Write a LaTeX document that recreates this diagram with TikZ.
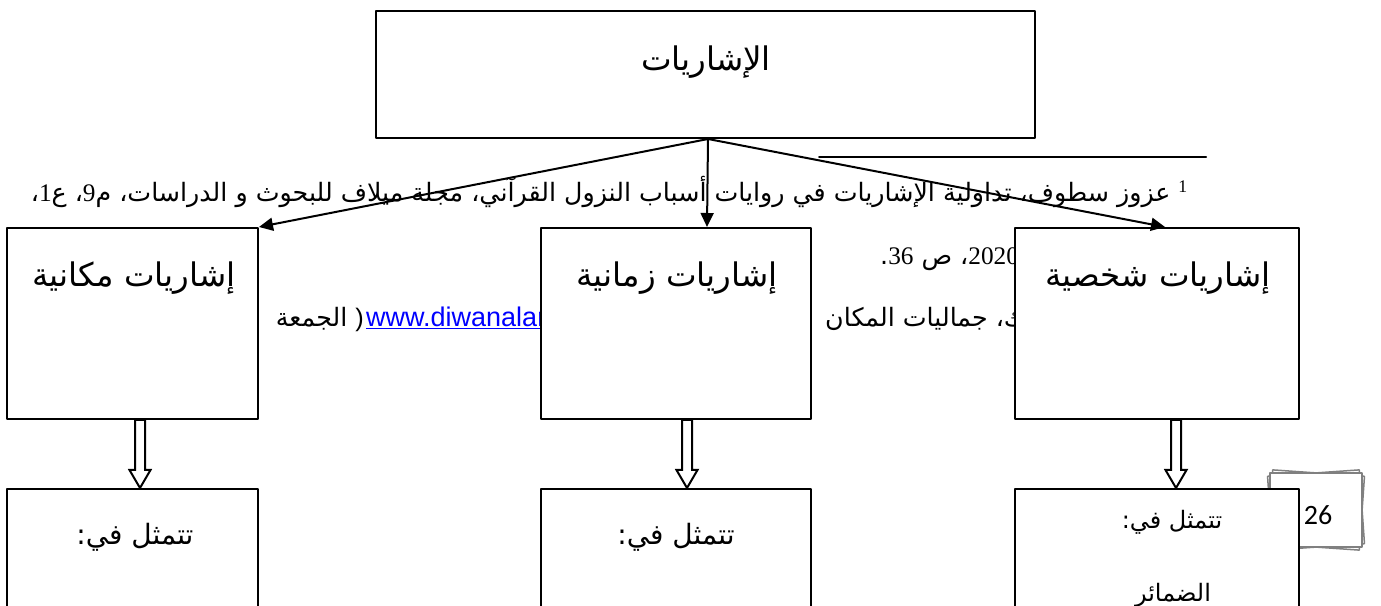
\documentclass[tikz,border=0pt]{standalone}
\usepackage{fontspec}
\setmainfont{Liberation Serif}
\newfontfamily\arabicfont[Script=Arabic]{DejaVu Sans}
\newfontfamily\urlfont{Liberation Sans}
\newfontfamily\pagefont{Carlito}
\TeXXeTstate=1
\usetikzlibrary{arrows.meta,calc}

\definecolor{linkblue}{RGB}{0,0,255}
\definecolor{sheetgray}{RGB}{128,128,128}

\tikzset{
  box/.style={draw, line width=2pt, fill=white, inner sep=0pt},
  lbl/.style={inner sep=0pt, font=\arabicfont\fontsize{32.5}{38}\selectfont},
  sublbl/.style={inner sep=0pt, font=\arabicfont\fontsize{28}{34}\selectfont},
  note/.style={inner sep=0pt, font=\arabicfont\fontsize{25.3}{30}\selectfont},
  hollow/.style={draw, line width=2pt, fill=white, line join=miter},
  sheet/.style={draw=sheetgray, line width=1.5pt, fill=white}
}

% digits and signs inside right-to-left text
\newcommand{\latnum}[1]{\beginL{\rmfamily #1}\endL}
\newcommand{\latsign}[1]{\beginL{\urlfont #1}\endL}

% hollow arrow at x=#1 from box #2 down to box #3
\newcommand{\hollowdown}[3]{%
  \draw[hollow] ($(#1,0 |- #2.south)+(-5,0)$) -- ($(#1,0 |- #3.north)+(-5,18)$)
    -- ++(-5.5,0) -- (#1,0 |- #3.north) -- ++(10.5,18) -- ++(-5.5,0)
    -- ($(#1,0 |- #2.south)+(5,0)$) -- cycle;}

\begin{document}
\begin{tikzpicture}[x=1pt,y=1pt,line cap=round,line join=round,>={Triangle[length=14pt,width=13pt]}]
      \useasboundingbox (0,0) rectangle (1381,605);
      \clip (0,0) rectangle (1381,605);

      % Footnote behind the chart
      \draw[line width=2pt] (819,448) -- (1206,448);
      \node[note, anchor=base east] (fn1) at (1188,403) {\beginR\textsuperscript{\rmfamily 1} عزوز سطوف، تداولية الإشاريات في روايات أسباب النزول القرآني، مجلة ميلاف للبحوث و الدراسات، م\latnum{9}، ع\latnum{1}،\endR};
      \node[note, anchor=base west] (fn2) at (880,340) {\beginR\latnum{2020}، ص \latnum{36}.\endR};
      \node[note, anchor=base east] (fn3) at (1025,278) {\beginR ك، جماليات المكان\endR};
      \node[inner sep=0pt, anchor=base west, text=linkblue, font=\urlfont\fontsize{27}{32}\selectfont] (url) at (366,278) {\underline{www.diwanalarab.com}};
      \node[note, anchor=base east] (fn4) at (364,278) {\beginR\latsign{)} الجمعة\endR};

      % Add Boxes
      \node[box, minimum width=659pt, minimum height=127pt] (top) at (705.5,530.5) {};
      \node[box, minimum width=251pt, minimum height=191pt] (loc) at (132.5,281.5) {};
      \node[box, minimum width=270pt, minimum height=191pt] (tim) at (676,281.5) {};
      \node[box, minimum width=284pt, minimum height=191pt] (per) at (1157,281.5) {};

      % Add Arrows
      \draw[->, line width=2pt] (708,0 |- top.south) -- (loc.north east);
      \draw[->, line width=2pt] (708,0 |- top.south) -- (707,0 |- tim.north);
      \draw[->, line width=2pt] (708,0 |- top.south) -- (1165,0 |- per.north);

      % Page number
      \foreach \a in {-4,4,0}
        \draw[sheet, rotate around={\a:(1316,95)}] (1270,58) rectangle (1362,132);
      \node[inner sep=0pt, font=\pagefont\fontsize{28}{32}\selectfont] (pg) at (1318,90) {26};

      \node[box, minimum width=251pt, minimum height=150pt] (locin) at (132.5,41) {};
      \node[box, minimum width=270pt, minimum height=150pt] (timin) at (676,41) {};
      \node[box, minimum width=284pt, minimum height=150pt] (perin) at (1157,41) {};

      \hollowdown{140}{loc}{locin}
      \hollowdown{687}{tim}{timin}
      \hollowdown{1176}{per}{perin}

      % Add Labels
      \node[lbl] (toplbl) at (706,543) {الإشاريات};
      \node[lbl] (loclbl) at (134,327) {\beginR إشاريات مكانية\endR};
      \node[lbl] (timlbl) at (677,327) {\beginR إشاريات زمانية\endR};
      \node[lbl] (perlbl) at (1158,327) {\beginR إشاريات شخصية\endR};
      \node[sublbl] (loctxt) at (135,68) {\beginR تتمثل في:\endR};
      \node[sublbl] (timtxt) at (676,68) {\beginR تتمثل في:\endR};
      \node[sublbl, font=\arabicfont\fontsize{24}{30}\selectfont] (pertxt) at (1172,83) {\beginR تتمثل في:\endR};
      \node[sublbl, font=\arabicfont\fontsize{24}{30}\selectfont] (perpro) at (1173,10) {الضمائر};
\end{tikzpicture}
\end{document}
